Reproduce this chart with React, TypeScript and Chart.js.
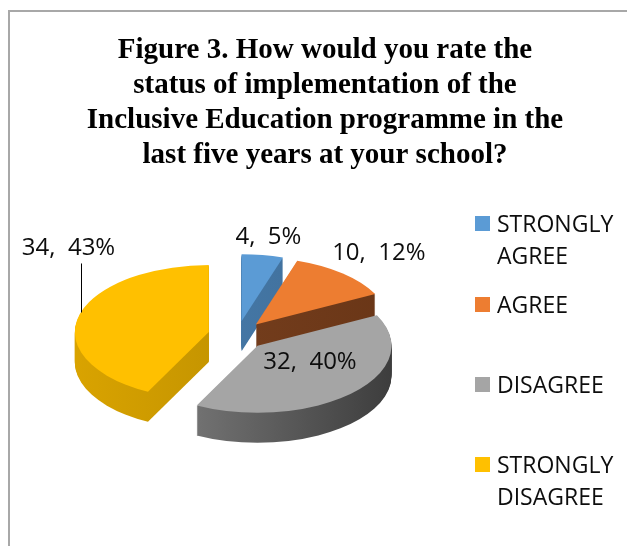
import React, { useEffect, useRef } from "react";
import { Chart, registerables } from "chart.js";

Chart.register(...registerables);

// ---- data ----
const categories = ["STRONGLY AGREE", "AGREE", "DISAGREE", "STRONGLY DISAGREE"];
const legendLines = [["STRONGLY", "AGREE"], ["AGREE"], ["DISAGREE"], ["STRONGLY", "DISAGREE"]];
const counts = [4, 10, 32, 34];
const percents = [5, 12, 40, 43];
const titleLines = [
  "Figure 3. How would you rate the",
  "status of implementation of the",
  "Inclusive Education programme in the",
  "last five years at your school?",
];

// ---- styles ----
const topColors = ["#5b9bd5", "#ed7d31", "#a5a5a5", "#ffc000"];
const sideLight = ["#4a80b2", "#7a4220", "#858585", "#d9a300"];
const sideDark = ["#3e6c96", "#6a3617", "#3d3d3d", "#b38800"];
const labelMode = ["outside", "outside", "inside", "callout"];
const labelRadius = [1.5, 1.63, 0.665, 1];
const labelAngleShift = [0, 0, -10, 0];

const TILT = 0.5;
const DEPTH = 30;
const EXPLODE = 29;
const SANS = "'Open Sans', 'Noto Sans', sans-serif";

const pie3d = {
  id: "pie3d",
  beforeDatasetsDraw(chart: any) {
    const ctx = chart.ctx;
    const meta = chart.getDatasetMeta(0);
    const arcs = meta.data.map((el: any, i: number) => {
      const p = el.getProps(["x", "y", "startAngle", "endAngle", "outerRadius"], true);
      const off = el.options.offset || 0;
      const mid = (p.startAngle + p.endAngle) / 2;
      return { i, ...p, mid, off };
    });
    arcs.sort((a: any, b: any) => Math.sin(a.mid) - Math.sin(b.mid));
    for (const a of arcs) {
      const ox = Math.cos(a.mid) * a.off;
      const oy = Math.sin(a.mid) * a.off;
      const path = (dz: number) => {
        ctx.save();
        ctx.translate(a.x, a.y + dz);
        ctx.scale(1, TILT);
        ctx.beginPath();
        ctx.moveTo(ox, oy);
        ctx.arc(ox, oy, a.outerRadius, a.startAngle, a.endAngle);
        ctx.closePath();
        ctx.restore();
      };
      const g = ctx.createLinearGradient(a.x + ox - a.outerRadius, 0, a.x + ox + a.outerRadius, 0);
      g.addColorStop(0, sideLight[a.i]);
      g.addColorStop(1, sideDark[a.i]);
      for (let dz = DEPTH; dz >= 1; dz--) {
        path(dz);
        ctx.fillStyle = g;
        ctx.fill();
      }
      path(0);
      ctx.fillStyle = topColors[a.i];
      ctx.fill();
    }
    return false;
  },
  afterDraw(chart: any) {
    const ctx = chart.ctx;
    ctx.save();
    // data labels
    const meta = chart.getDatasetMeta(0);
    ctx.font = `24px ${SANS}`;
    ctx.fillStyle = "#0d0d0d";
    ctx.textAlign = "center";
    ctx.textBaseline = "alphabetic";
    meta.data.forEach((el: any, i: number) => {
      const p = el.getProps(["x", "y", "startAngle", "endAngle", "outerRadius"], true);
      const mid = (p.startAngle + p.endAngle) / 2;
      const R = p.outerRadius;
      const off = el.options.offset || 0;
      const text = `${counts[i]},  ${percents[i]}%`;
      if (labelMode[i] === "callout") {
        const ex = p.x + Math.cos(mid) * (R + off);
        const ey = p.y + Math.sin(mid) * (R + off) * TILT;
        const topY = ey - 53;
        ctx.strokeStyle = "#000";
        ctx.lineWidth = 1;
        ctx.beginPath();
        ctx.moveTo(Math.round(ex) + 2.5, ey - 4);
        ctx.lineTo(Math.round(ex) + 2.5, topY);
        ctx.stroke();
        ctx.fillText(text, ex - 10, topY - 8);
      } else {
        const f = labelRadius[i];
        const ang = mid + (labelAngleShift[i] * Math.PI) / 180;
        const lx = p.x + Math.cos(ang) * R * f;
        const ly = p.y + Math.sin(ang) * R * f * TILT;
        ctx.fillText(text, lx, ly + 8);
      }
    });
    // title
    ctx.font = `bold 29px 'Liberation Serif', 'Times New Roman', serif`;
    ctx.fillStyle = "#000";
    ctx.textAlign = "center";
    titleLines.forEach((t, k) => ctx.fillText(t, 315, 46 + k * 35));
    // legend
    const rows = [211, 292, 372, 452];
    ctx.font = `23px ${SANS}`;
    ctx.textAlign = "left";
    legendLines.forEach((lines, i) => {
      ctx.fillStyle = topColors[i];
      ctx.fillRect(465, rows[i] - 7, 15, 15);
      ctx.fillStyle = "#0d0d0d";
      lines.forEach((ln, j) => ctx.fillText(ln, 487, rows[i] + 9 + j * 32));
    });
    ctx.restore();
  },
};

export default function App() {
  const ref = useRef<HTMLCanvasElement>(null);
  useEffect(() => {
    if (!ref.current) return;
    const chart = new Chart(ref.current, {
      type: "pie",
      data: {
        labels: categories,
        datasets: [
          {
            data: counts,
            backgroundColor: topColors,
            borderWidth: 0,
            offset: EXPLODE,
            radius: 134,
          } as any,
        ],
      },
      options: {
        animation: false,
        responsive: false,
        events: [],
        layout: { padding: { left: 20, right: 183, top: 200, bottom: 87 } },
        plugins: {
          legend: { display: false },
          title: { display: false },
          tooltip: { enabled: false },
        },
      },
      plugins: [pie3d],
    });
    return () => chart.destroy();
  }, []);
  return (
    <div
      style={{
        position: "absolute",
        left: 8,
        top: 10,
        width: 617,
        height: 534,
        borderTop: "2px solid #a8a8a8",
        borderLeft: "2px solid #a8a8a8",
        background: "#fff",
      }}
    >
      <canvas ref={ref} width={617} height={534} style={{ display: "block" }} />
    </div>
  );
}
